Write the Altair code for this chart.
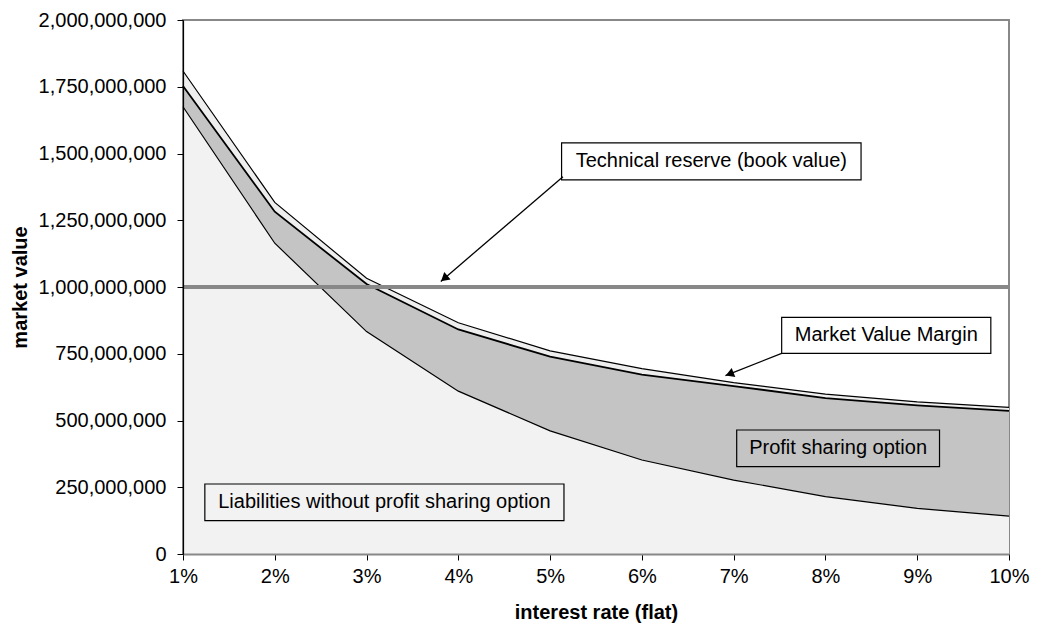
import math
import altair as alt
import pandas as pd

# ---- data ----
rates = [1, 2, 3, 4, 5, 6, 7, 8, 9, 10]  # interest rate (flat), %
liabilities = [1.675e9, 1.164e9, 0.833e9, 0.610e9, 0.461e9, 0.352e9, 0.277e9, 0.215e9, 0.171e9, 0.142e9]
liab_plus_pso = [1.753e9, 1.282e9, 1.011e9, 0.841e9, 0.739e9, 0.672e9, 0.629e9, 0.584e9, 0.557e9, 0.536e9]
market_value_total = [1.809e9, 1.317e9, 1.0325e9, 0.866e9, 0.761e9, 0.694e9, 0.642e9, 0.599e9, 0.570e9, 0.549e9]
book_value = [1.0e9]
y_ticks = [0, 250e6, 500e6, 750e6, 1000e6, 1250e6, 1500e6, 1750e6, 2000e6]

# annotation boxes (data coordinates)
box_labels = ["Technical reserve (book value)", "Market Value Margin",
              "Profit sharing option", "Liabilities without profit sharing option"]
box_x1 = [5.125, 7.523, 7.033, 1.238]
box_x2 = [8.388, 9.802, 9.243, 5.151]
box_ytop = [1.540e9, 0.8865e9, 0.4644e9, 0.2622e9]
box_ybot = [1.401e9, 0.7517e9, 0.3270e9, 0.1247e9]
box_fill = ["#ffffff", "#ffffff", "#c4c4c4", "#f2f2f2"]

# arrows (start -> tip)
arr_x1 = [5.140, 7.523]
arr_y1 = [1.413e9, 0.7517e9]
arr_x2 = [3.809, 6.910]
arr_y2 = [1.021e9, 0.6678e9]

W, H = 826, 534
XMIN, XMAX = 1, 10
YMIN, YMAX = 0, 2e9
pxx = W / (XMAX - XMIN)
pxy = H / (YMAX - YMIN)

df = pd.DataFrame({"rate": rates, "liab": liabilities, "pso": liab_plus_pso, "total": market_value_total})
boxes = pd.DataFrame({"label": box_labels, "x1": box_x1, "x2": box_x2, "yt": box_ytop, "yb": box_ybot, "fill": box_fill})
boxes["xc"] = (boxes.x1 + boxes.x2) / 2
boxes["yc"] = (boxes.yt + boxes.yb) / 2

arrows = pd.DataFrame({"x1": arr_x1, "y1": arr_y1, "x2": arr_x2, "y2": arr_y2})
heads = []
for _, r in arrows.iterrows():
    dx = (r.x2 - r.x1) * pxx
    dy = -(r.y2 - r.y1) * pxy  # screen y downward
    L = math.hypot(dx, dy)
    ux, uy = dx / L, dy / L
    ang = math.degrees(math.atan2(ux, -uy)) % 360
    back = 4.5
    hx = r.x2 - ux * back / pxx
    hy = r.y2 + uy * back / pxy
    heads.append({"hx": hx, "hy": hy, "ang": ang})
heads = pd.DataFrame(heads)

xscale = alt.Scale(domain=[XMIN, XMAX], nice=False, zero=False)
yscale = alt.Scale(domain=[YMIN, YMAX], nice=False)

xaxis = alt.Axis(values=rates, labelExpr="datum.value + '%'", title="interest rate (flat)",
                 grid=False, domainColor="#888888", domainWidth=2, tickColor="black", tickSize=6,
                 labelPadding=6, labelFontSize=20, titleFontSize=20, titleFontWeight="bold",
                 labelFlush=False, labelOverlap=False, zindex=1,
                 titleX=W / 2, titleY=58, titleBaseline="middle", titleAlign="center",
                 labelFont="Liberation Sans", titleFont="Liberation Sans", labelColor="black", titleColor="black")
yaxis = alt.Axis(values=y_ticks, format=",d", title="market value", grid=False,
                 domainColor="black", domainWidth=1.2, tickColor="black", tickSize=6,
                 labelPadding=11, labelFontSize=20, titleFontSize=20, titleFontWeight="bold",
                 labelFlush=False, labelOverlap=False, zindex=1,
                 titleAngle=270, titleX=-163, titleY=H / 2, titleBaseline="middle", titleAlign="center",
                 labelFont="Liberation Sans", titleFont="Liberation Sans", labelColor="black", titleColor="black")

base = alt.Chart(df)
x = alt.X("rate:Q", scale=xscale, axis=xaxis)

a1 = base.mark_area(color="#f2f2f2", opacity=1).encode(x=x, y=alt.Y("liab:Q", scale=yscale, axis=yaxis))
a2 = base.mark_area(color="#c4c4c4", opacity=1).encode(x=alt.X("rate:Q"), y=alt.Y("pso:Q"), y2="liab:Q")
a3 = base.mark_area(color="#eeeeee", opacity=1).encode(x=alt.X("rate:Q"), y=alt.Y("total:Q"), y2="pso:Q")
l1 = base.mark_line(color="black", strokeWidth=1.2).encode(x="rate:Q", y="liab:Q")
l2 = base.mark_line(color="black", strokeWidth=1.8).encode(x="rate:Q", y="pso:Q")
l3 = base.mark_line(color="black", strokeWidth=1.2).encode(x="rate:Q", y="total:Q")

bv = alt.Chart(pd.DataFrame({"v": book_value})).mark_rule(color="#888888", strokeWidth=4).encode(y="v:Q")

rects = alt.Chart(boxes).mark_rect(stroke="black", strokeWidth=1.2).encode(
    x="x1:Q", x2="x2:Q", y="yt:Q", y2="yb:Q", fill=alt.Fill("fill:N", scale=None))
texts = alt.Chart(boxes).mark_text(fontSize=20, font="Liberation Sans", color="black",
                                   align="center", baseline="middle").encode(
    x="xc:Q", y="yc:Q", text="label:N")

arr = alt.Chart(arrows).mark_rule(color="black", strokeWidth=1.3).encode(
    x="x1:Q", x2="x2:Q", y="y1:Q", y2="y2:Q")
hd = alt.Chart(heads).mark_point(shape="triangle-up", filled=True, color="black", size=95, opacity=1).encode(
    x="hx:Q", y="hy:Q", angle=alt.Angle("ang:Q", scale=None))

chart = alt.layer(a1, a2, a3, l1, l2, l3, bv, rects, texts, arr, hd).properties(
    width=W, height=H,
    autosize=alt.AutoSizeParams(type="none"),
    padding={"left": 175, "top": 12, "right": 22, "bottom": 71},
    background="white",
).configure_view(stroke="#888888", strokeWidth=2)

chart.save("out.html", embed_options={"renderer": "svg", "actions": False})
